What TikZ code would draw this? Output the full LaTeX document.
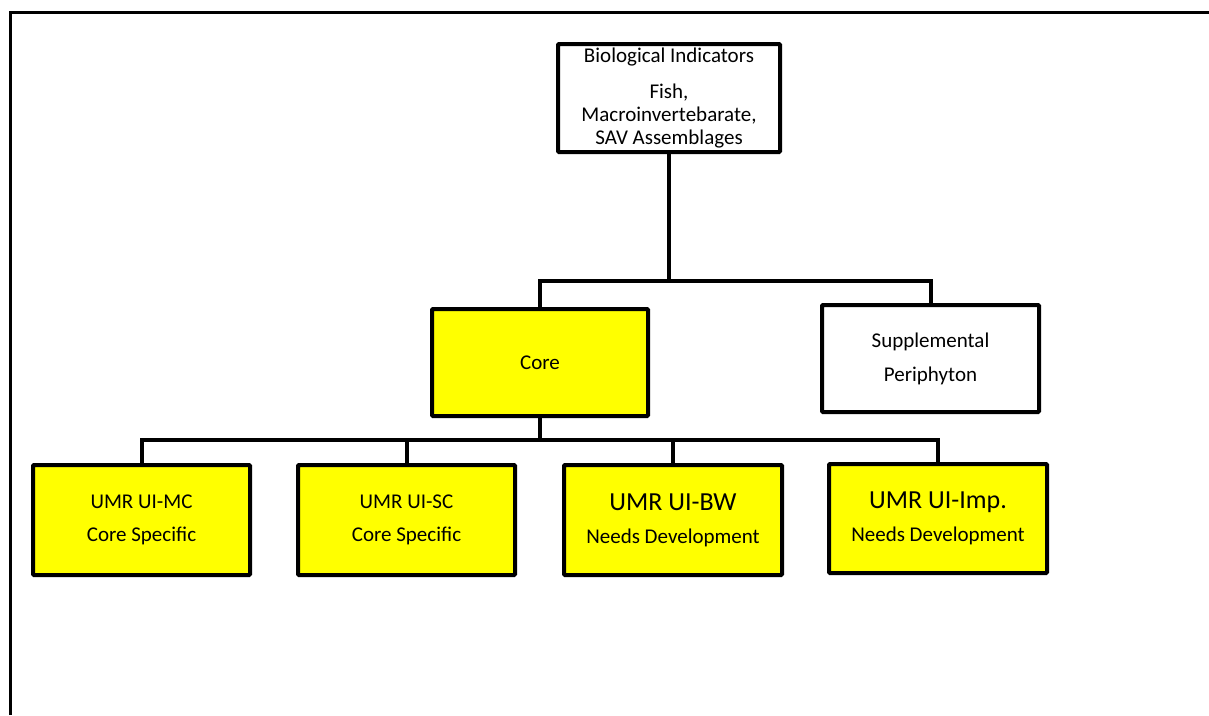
\documentclass[tikz,border=0pt]{standalone}
\usepackage{fontspec}
\setmainfont{Carlito}
\definecolor{coreyellow}{RGB}{255,255,0}
\tikzset{
  box/.style={draw, line width=4pt, rounded corners=1pt, inner sep=0pt, align=center,
    font=\fontsize{21}{23}\selectfont, minimum width=217pt, minimum height=110pt},
  corebox/.style={box, fill=coreyellow},
  link/.style={line width=4pt},
}
\begin{document}
\begin{tikzpicture}[x=1pt,y=-1pt]
\useasboundingbox (0,0) rectangle (1209,715);
\draw[line width=2.5pt] (10.5,715) -- (10.5,12.5) -- (1209,12.5);

\node[box, minimum width=222pt, minimum height=108pt] (bio) at (669,98)
  {Biological Indicators\\[13pt]Fish,\\Macroinvertebarate,\\SAV Assemblages};
\node[corebox, minimum height=107pt, minimum width=216pt] (core) at (540,362.5) {Core};
\node[box, minimum height=107pt] (supp) at (930.5,358.5) {Supplemental\\[11pt]Periphyton};

\node[corebox] (mc) at (141.5,520) {UMR UI-MC\\[10pt]Core Specific};
\node[corebox] (sc) at (406.5,520) {UMR UI-SC\\[10pt]Core Specific};
\node[corebox, minimum width=218pt] (bw) at (673,520)
  {{\fontsize{26}{28}\selectfont UMR UI-BW}\\[10pt]Needs Development};
\node[corebox, minimum width=218pt, minimum height=109pt] (imp) at (938,518.5)
  {{\fontsize{26}{28}\selectfont UMR UI-Imp.}\\[10pt]Needs Development};

\coordinate (split) at (669,281);
\coordinate (hub) at (540,440);
\draw[link] (bio.south) -- (split) -| (core.north);
\draw[link] (split) -| (supp.north);
\draw[link] (core.south) -- (hub);
\foreach \n in {mc,sc,bw,imp}
  \draw[link] (hub) -| (\n.north);
\end{tikzpicture}
\end{document}
